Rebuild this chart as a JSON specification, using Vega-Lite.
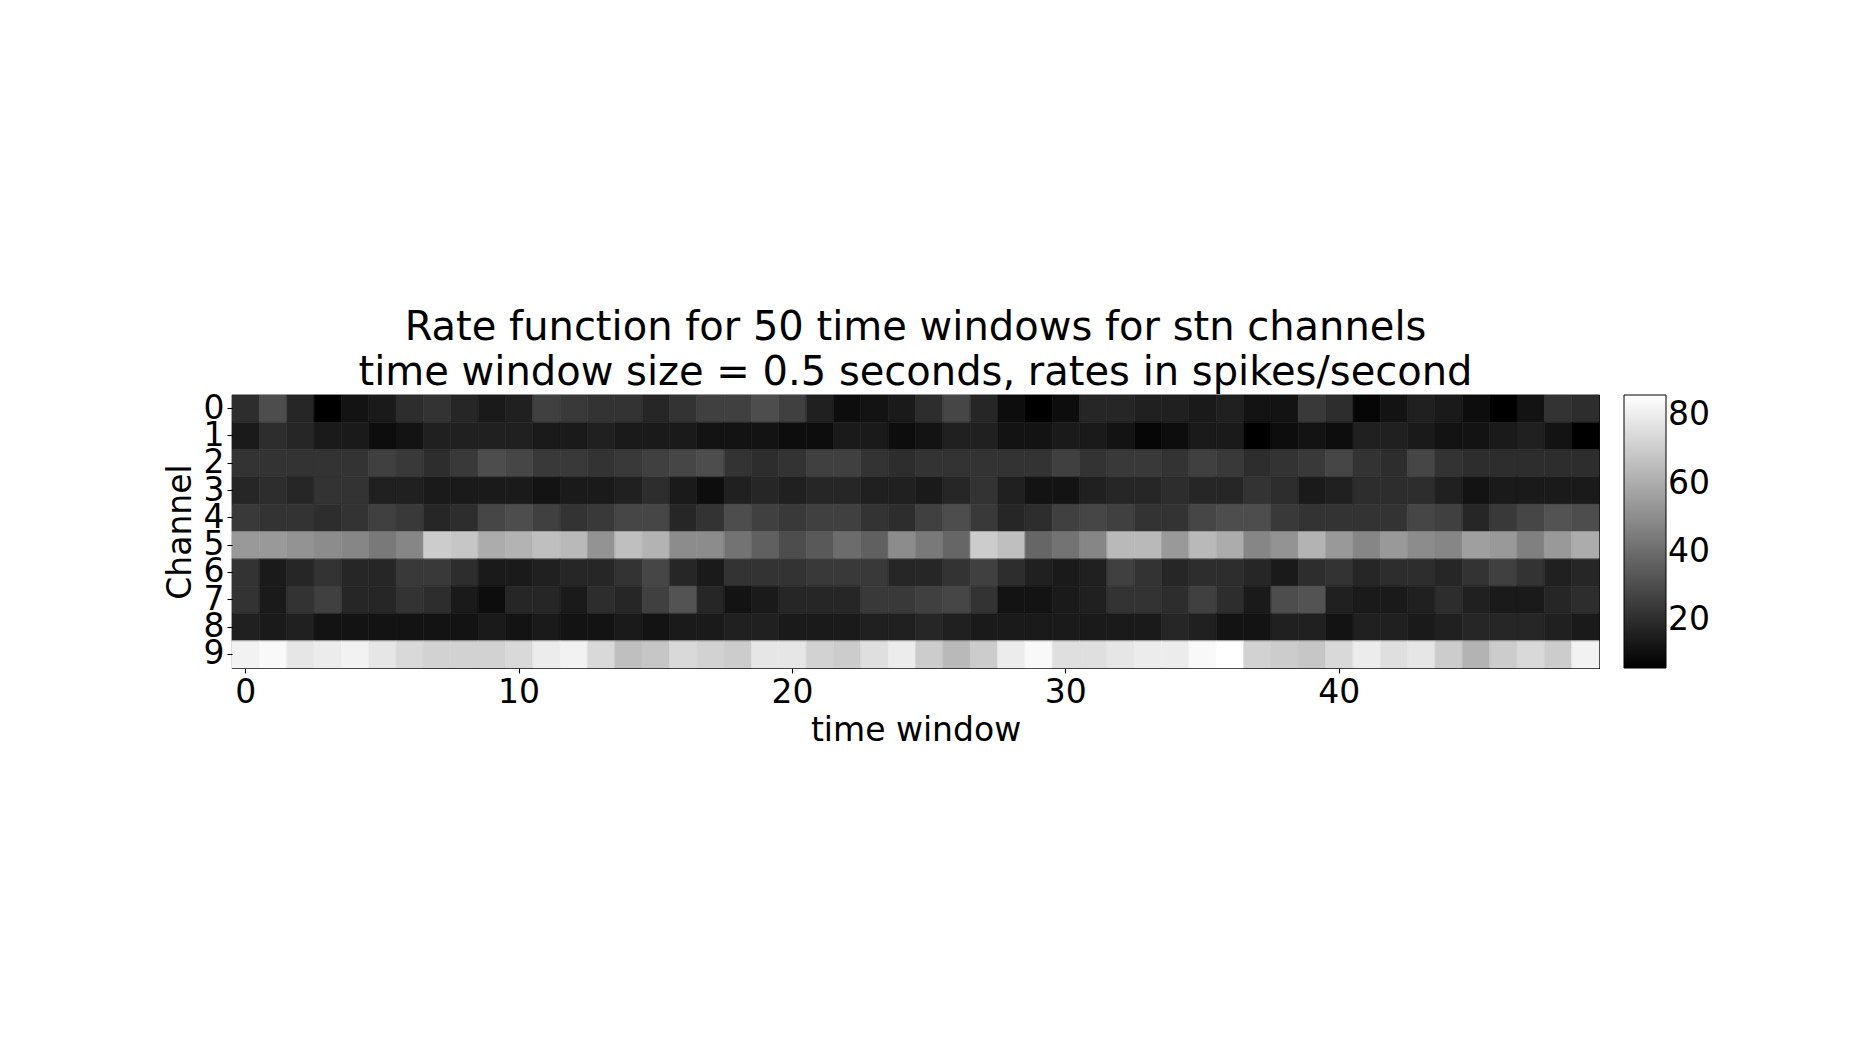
{
  "$schema": "https://vega.github.io/schema/vega-lite/v6.json",
  "autosize": "none",
  "width": 1367,
  "height": 273,
  "padding": {"left": 232, "top": 395, "right": 251, "bottom": 382},
  "background": "white",
  "config": {
    "font": "DejaVu Sans",
    "view": {"stroke": "black", "strokeWidth": 1.1},
    "title": {"fontSize": 40, "fontWeight": "normal", "color": "black", "anchor": "middle", "lineHeight": 45, "baseline": "bottom", "offset": -1},
    "axis": {
      "domain": false, "grid": false,
      "labelFontSize": 33, "labelColor": "black", "labelPadding": 3,
      "tickColor": "black", "tickSize": 5, "tickWidth": 1.1,
      "titleFontSize": 33, "titleFontWeight": "normal", "titleColor": "black"
    },
    "legend": {
      "gradientLength": 273, "gradientThickness": 42,
      "gradientStrokeColor": "black", "gradientStrokeWidth": 1,
      "labelFontSize": 33, "labelColor": "black", "labelOffset": 11,
      "padding": 0, "offset": 25, "labelOverlap": false
    }
  },
  "title": {"text": ["Rate function for 50 time windows for stn channels\u00a0", "\u00a0time window size = 0.5 seconds, rates in spikes/second"]},
  "data": {"values": [
    {"ch":0,"t":0,"rate":20},{"ch":0,"t":1,"rate":30},{"ch":0,"t":2,"rate":18},{"ch":0,"t":3,"rate":6},{"ch":0,"t":4,"rate":12},{"ch":0,"t":5,"rate":14},{"ch":0,"t":6,"rate":20},{"ch":0,"t":7,"rate":22},{"ch":0,"t":8,"rate":18},{"ch":0,"t":9,"rate":14},
    {"ch":0,"t":10,"rate":16},{"ch":0,"t":11,"rate":26},{"ch":0,"t":12,"rate":24},{"ch":0,"t":13,"rate":22},{"ch":0,"t":14,"rate":22},{"ch":0,"t":15,"rate":18},{"ch":0,"t":16,"rate":22},{"ch":0,"t":17,"rate":26},{"ch":0,"t":18,"rate":26},{"ch":0,"t":19,"rate":30},
    {"ch":0,"t":20,"rate":26},{"ch":0,"t":21,"rate":16},{"ch":0,"t":22,"rate":10},{"ch":0,"t":23,"rate":12},{"ch":0,"t":24,"rate":14},{"ch":0,"t":25,"rate":20},{"ch":0,"t":26,"rate":28},{"ch":0,"t":27,"rate":18},{"ch":0,"t":28,"rate":10},{"ch":0,"t":29,"rate":6},
    {"ch":0,"t":30,"rate":10},{"ch":0,"t":31,"rate":18},{"ch":0,"t":32,"rate":18},{"ch":0,"t":33,"rate":16},{"ch":0,"t":34,"rate":16},{"ch":0,"t":35,"rate":14},{"ch":0,"t":36,"rate":16},{"ch":0,"t":37,"rate":12},{"ch":0,"t":38,"rate":12},{"ch":0,"t":39,"rate":24},
    {"ch":0,"t":40,"rate":20},{"ch":0,"t":41,"rate":8},{"ch":0,"t":42,"rate":12},{"ch":0,"t":43,"rate":16},{"ch":0,"t":44,"rate":14},{"ch":0,"t":45,"rate":10},{"ch":0,"t":46,"rate":6},{"ch":0,"t":47,"rate":12},{"ch":0,"t":48,"rate":22},{"ch":0,"t":49,"rate":20},

    {"ch":1,"t":0,"rate":14},{"ch":1,"t":1,"rate":20},{"ch":1,"t":2,"rate":18},{"ch":1,"t":3,"rate":14},{"ch":1,"t":4,"rate":14},{"ch":1,"t":5,"rate":10},{"ch":1,"t":6,"rate":12},{"ch":1,"t":7,"rate":16},{"ch":1,"t":8,"rate":16},{"ch":1,"t":9,"rate":16},
    {"ch":1,"t":10,"rate":16},{"ch":1,"t":11,"rate":14},{"ch":1,"t":12,"rate":14},{"ch":1,"t":13,"rate":16},{"ch":1,"t":14,"rate":14},{"ch":1,"t":15,"rate":14},{"ch":1,"t":16,"rate":14},{"ch":1,"t":17,"rate":12},{"ch":1,"t":18,"rate":12},{"ch":1,"t":19,"rate":12},
    {"ch":1,"t":20,"rate":10},{"ch":1,"t":21,"rate":10},{"ch":1,"t":22,"rate":14},{"ch":1,"t":23,"rate":14},{"ch":1,"t":24,"rate":10},{"ch":1,"t":25,"rate":12},{"ch":1,"t":26,"rate":16},{"ch":1,"t":27,"rate":16},{"ch":1,"t":28,"rate":12},{"ch":1,"t":29,"rate":12},
    {"ch":1,"t":30,"rate":14},{"ch":1,"t":31,"rate":14},{"ch":1,"t":32,"rate":12},{"ch":1,"t":33,"rate":8},{"ch":1,"t":34,"rate":10},{"ch":1,"t":35,"rate":14},{"ch":1,"t":36,"rate":14},{"ch":1,"t":37,"rate":6},{"ch":1,"t":38,"rate":10},{"ch":1,"t":39,"rate":12},
    {"ch":1,"t":40,"rate":10},{"ch":1,"t":41,"rate":16},{"ch":1,"t":42,"rate":16},{"ch":1,"t":43,"rate":14},{"ch":1,"t":44,"rate":12},{"ch":1,"t":45,"rate":12},{"ch":1,"t":46,"rate":14},{"ch":1,"t":47,"rate":16},{"ch":1,"t":48,"rate":12},{"ch":1,"t":49,"rate":6},

    {"ch":2,"t":0,"rate":22},{"ch":2,"t":1,"rate":22},{"ch":2,"t":2,"rate":22},{"ch":2,"t":3,"rate":22},{"ch":2,"t":4,"rate":22},{"ch":2,"t":5,"rate":26},{"ch":2,"t":6,"rate":24},{"ch":2,"t":7,"rate":20},{"ch":2,"t":8,"rate":24},{"ch":2,"t":9,"rate":30},
    {"ch":2,"t":10,"rate":28},{"ch":2,"t":11,"rate":24},{"ch":2,"t":12,"rate":24},{"ch":2,"t":13,"rate":22},{"ch":2,"t":14,"rate":24},{"ch":2,"t":15,"rate":26},{"ch":2,"t":16,"rate":28},{"ch":2,"t":17,"rate":30},{"ch":2,"t":18,"rate":22},{"ch":2,"t":19,"rate":20},
    {"ch":2,"t":20,"rate":22},{"ch":2,"t":21,"rate":26},{"ch":2,"t":22,"rate":26},{"ch":2,"t":23,"rate":22},{"ch":2,"t":24,"rate":20},{"ch":2,"t":25,"rate":22},{"ch":2,"t":26,"rate":22},{"ch":2,"t":27,"rate":22},{"ch":2,"t":28,"rate":22},{"ch":2,"t":29,"rate":22},
    {"ch":2,"t":30,"rate":26},{"ch":2,"t":31,"rate":22},{"ch":2,"t":32,"rate":24},{"ch":2,"t":33,"rate":24},{"ch":2,"t":34,"rate":22},{"ch":2,"t":35,"rate":26},{"ch":2,"t":36,"rate":24},{"ch":2,"t":37,"rate":20},{"ch":2,"t":38,"rate":22},{"ch":2,"t":39,"rate":24},
    {"ch":2,"t":40,"rate":28},{"ch":2,"t":41,"rate":22},{"ch":2,"t":42,"rate":20},{"ch":2,"t":43,"rate":28},{"ch":2,"t":44,"rate":22},{"ch":2,"t":45,"rate":20},{"ch":2,"t":46,"rate":20},{"ch":2,"t":47,"rate":20},{"ch":2,"t":48,"rate":20},{"ch":2,"t":49,"rate":20},

    {"ch":3,"t":0,"rate":18},{"ch":3,"t":1,"rate":20},{"ch":3,"t":2,"rate":18},{"ch":3,"t":3,"rate":22},{"ch":3,"t":4,"rate":22},{"ch":3,"t":5,"rate":16},{"ch":3,"t":6,"rate":16},{"ch":3,"t":7,"rate":14},{"ch":3,"t":8,"rate":14},{"ch":3,"t":9,"rate":14},
    {"ch":3,"t":10,"rate":14},{"ch":3,"t":11,"rate":12},{"ch":3,"t":12,"rate":14},{"ch":3,"t":13,"rate":14},{"ch":3,"t":14,"rate":16},{"ch":3,"t":15,"rate":20},{"ch":3,"t":16,"rate":14},{"ch":3,"t":17,"rate":10},{"ch":3,"t":18,"rate":16},{"ch":3,"t":19,"rate":18},
    {"ch":3,"t":20,"rate":16},{"ch":3,"t":21,"rate":18},{"ch":3,"t":22,"rate":18},{"ch":3,"t":23,"rate":16},{"ch":3,"t":24,"rate":16},{"ch":3,"t":25,"rate":14},{"ch":3,"t":26,"rate":18},{"ch":3,"t":27,"rate":22},{"ch":3,"t":28,"rate":16},{"ch":3,"t":29,"rate":12},
    {"ch":3,"t":30,"rate":12},{"ch":3,"t":31,"rate":16},{"ch":3,"t":32,"rate":18},{"ch":3,"t":33,"rate":18},{"ch":3,"t":34,"rate":20},{"ch":3,"t":35,"rate":18},{"ch":3,"t":36,"rate":18},{"ch":3,"t":37,"rate":22},{"ch":3,"t":38,"rate":20},{"ch":3,"t":39,"rate":14},
    {"ch":3,"t":40,"rate":16},{"ch":3,"t":41,"rate":20},{"ch":3,"t":42,"rate":20},{"ch":3,"t":43,"rate":20},{"ch":3,"t":44,"rate":16},{"ch":3,"t":45,"rate":12},{"ch":3,"t":46,"rate":14},{"ch":3,"t":47,"rate":14},{"ch":3,"t":48,"rate":14},{"ch":3,"t":49,"rate":14},

    {"ch":4,"t":0,"rate":24},{"ch":4,"t":1,"rate":22},{"ch":4,"t":2,"rate":22},{"ch":4,"t":3,"rate":20},{"ch":4,"t":4,"rate":22},{"ch":4,"t":5,"rate":26},{"ch":4,"t":6,"rate":24},{"ch":4,"t":7,"rate":18},{"ch":4,"t":8,"rate":20},{"ch":4,"t":9,"rate":28},
    {"ch":4,"t":10,"rate":30},{"ch":4,"t":11,"rate":26},{"ch":4,"t":12,"rate":22},{"ch":4,"t":13,"rate":24},{"ch":4,"t":14,"rate":28},{"ch":4,"t":15,"rate":28},{"ch":4,"t":16,"rate":18},{"ch":4,"t":17,"rate":22},{"ch":4,"t":18,"rate":30},{"ch":4,"t":19,"rate":26},
    {"ch":4,"t":20,"rate":24},{"ch":4,"t":21,"rate":26},{"ch":4,"t":22,"rate":26},{"ch":4,"t":23,"rate":22},{"ch":4,"t":24,"rate":20},{"ch":4,"t":25,"rate":26},{"ch":4,"t":26,"rate":30},{"ch":4,"t":27,"rate":24},{"ch":4,"t":28,"rate":18},{"ch":4,"t":29,"rate":20},
    {"ch":4,"t":30,"rate":26},{"ch":4,"t":31,"rate":28},{"ch":4,"t":32,"rate":26},{"ch":4,"t":33,"rate":22},{"ch":4,"t":34,"rate":22},{"ch":4,"t":35,"rate":28},{"ch":4,"t":36,"rate":30},{"ch":4,"t":37,"rate":30},{"ch":4,"t":38,"rate":24},{"ch":4,"t":39,"rate":22},
    {"ch":4,"t":40,"rate":22},{"ch":4,"t":41,"rate":22},{"ch":4,"t":42,"rate":22},{"ch":4,"t":43,"rate":28},{"ch":4,"t":44,"rate":26},{"ch":4,"t":45,"rate":18},{"ch":4,"t":46,"rate":24},{"ch":4,"t":47,"rate":28},{"ch":4,"t":48,"rate":32},{"ch":4,"t":49,"rate":30},

    {"ch":5,"t":0,"rate":54},{"ch":5,"t":1,"rate":54},{"ch":5,"t":2,"rate":52},{"ch":5,"t":3,"rate":50},{"ch":5,"t":4,"rate":48},{"ch":5,"t":5,"rate":44},{"ch":5,"t":6,"rate":48},{"ch":5,"t":7,"rate":70},{"ch":5,"t":8,"rate":68},{"ch":5,"t":9,"rate":60},
    {"ch":5,"t":10,"rate":62},{"ch":5,"t":11,"rate":66},{"ch":5,"t":12,"rate":64},{"ch":5,"t":13,"rate":52},{"ch":5,"t":14,"rate":66},{"ch":5,"t":15,"rate":62},{"ch":5,"t":16,"rate":50},{"ch":5,"t":17,"rate":50},{"ch":5,"t":18,"rate":42},{"ch":5,"t":19,"rate":36},
    {"ch":5,"t":20,"rate":30},{"ch":5,"t":21,"rate":34},{"ch":5,"t":22,"rate":40},{"ch":5,"t":23,"rate":36},{"ch":5,"t":24,"rate":50},{"ch":5,"t":25,"rate":44},{"ch":5,"t":26,"rate":38},{"ch":5,"t":27,"rate":70},{"ch":5,"t":28,"rate":66},{"ch":5,"t":29,"rate":38},
    {"ch":5,"t":30,"rate":42},{"ch":5,"t":31,"rate":48},{"ch":5,"t":32,"rate":64},{"ch":5,"t":33,"rate":64},{"ch":5,"t":34,"rate":54},{"ch":5,"t":35,"rate":64},{"ch":5,"t":36,"rate":60},{"ch":5,"t":37,"rate":48},{"ch":5,"t":38,"rate":52},{"ch":5,"t":39,"rate":62},
    {"ch":5,"t":40,"rate":54},{"ch":5,"t":41,"rate":48},{"ch":5,"t":42,"rate":54},{"ch":5,"t":43,"rate":50},{"ch":5,"t":44,"rate":48},{"ch":5,"t":45,"rate":56},{"ch":5,"t":46,"rate":54},{"ch":5,"t":47,"rate":46},{"ch":5,"t":48,"rate":54},{"ch":5,"t":49,"rate":60},

    {"ch":6,"t":0,"rate":22},{"ch":6,"t":1,"rate":14},{"ch":6,"t":2,"rate":18},{"ch":6,"t":3,"rate":22},{"ch":6,"t":4,"rate":18},{"ch":6,"t":5,"rate":18},{"ch":6,"t":6,"rate":24},{"ch":6,"t":7,"rate":24},{"ch":6,"t":8,"rate":20},{"ch":6,"t":9,"rate":14},
    {"ch":6,"t":10,"rate":14},{"ch":6,"t":11,"rate":16},{"ch":6,"t":12,"rate":18},{"ch":6,"t":13,"rate":18},{"ch":6,"t":14,"rate":22},{"ch":6,"t":15,"rate":28},{"ch":6,"t":16,"rate":18},{"ch":6,"t":17,"rate":14},{"ch":6,"t":18,"rate":22},{"ch":6,"t":19,"rate":22},
    {"ch":6,"t":20,"rate":22},{"ch":6,"t":21,"rate":24},{"ch":6,"t":22,"rate":24},{"ch":6,"t":23,"rate":24},{"ch":6,"t":24,"rate":18},{"ch":6,"t":25,"rate":18},{"ch":6,"t":26,"rate":22},{"ch":6,"t":27,"rate":26},{"ch":6,"t":28,"rate":20},{"ch":6,"t":29,"rate":16},
    {"ch":6,"t":30,"rate":14},{"ch":6,"t":31,"rate":16},{"ch":6,"t":32,"rate":26},{"ch":6,"t":33,"rate":22},{"ch":6,"t":34,"rate":18},{"ch":6,"t":35,"rate":20},{"ch":6,"t":36,"rate":20},{"ch":6,"t":37,"rate":18},{"ch":6,"t":38,"rate":14},{"ch":6,"t":39,"rate":20},
    {"ch":6,"t":40,"rate":22},{"ch":6,"t":41,"rate":18},{"ch":6,"t":42,"rate":20},{"ch":6,"t":43,"rate":20},{"ch":6,"t":44,"rate":18},{"ch":6,"t":45,"rate":22},{"ch":6,"t":46,"rate":26},{"ch":6,"t":47,"rate":22},{"ch":6,"t":48,"rate":16},{"ch":6,"t":49,"rate":18},

    {"ch":7,"t":0,"rate":22},{"ch":7,"t":1,"rate":14},{"ch":7,"t":2,"rate":22},{"ch":7,"t":3,"rate":26},{"ch":7,"t":4,"rate":18},{"ch":7,"t":5,"rate":18},{"ch":7,"t":6,"rate":22},{"ch":7,"t":7,"rate":20},{"ch":7,"t":8,"rate":14},{"ch":7,"t":9,"rate":10},
    {"ch":7,"t":10,"rate":18},{"ch":7,"t":11,"rate":18},{"ch":7,"t":12,"rate":14},{"ch":7,"t":13,"rate":20},{"ch":7,"t":14,"rate":18},{"ch":7,"t":15,"rate":26},{"ch":7,"t":16,"rate":32},{"ch":7,"t":17,"rate":18},{"ch":7,"t":18,"rate":12},{"ch":7,"t":19,"rate":14},
    {"ch":7,"t":20,"rate":18},{"ch":7,"t":21,"rate":18},{"ch":7,"t":22,"rate":18},{"ch":7,"t":23,"rate":24},{"ch":7,"t":24,"rate":24},{"ch":7,"t":25,"rate":26},{"ch":7,"t":26,"rate":28},{"ch":7,"t":27,"rate":22},{"ch":7,"t":28,"rate":12},{"ch":7,"t":29,"rate":12},
    {"ch":7,"t":30,"rate":14},{"ch":7,"t":31,"rate":16},{"ch":7,"t":32,"rate":22},{"ch":7,"t":33,"rate":22},{"ch":7,"t":34,"rate":20},{"ch":7,"t":35,"rate":26},{"ch":7,"t":36,"rate":20},{"ch":7,"t":37,"rate":14},{"ch":7,"t":38,"rate":30},{"ch":7,"t":39,"rate":32},
    {"ch":7,"t":40,"rate":16},{"ch":7,"t":41,"rate":14},{"ch":7,"t":42,"rate":14},{"ch":7,"t":43,"rate":16},{"ch":7,"t":44,"rate":20},{"ch":7,"t":45,"rate":16},{"ch":7,"t":46,"rate":14},{"ch":7,"t":47,"rate":14},{"ch":7,"t":48,"rate":18},{"ch":7,"t":49,"rate":20},

    {"ch":8,"t":0,"rate":16},{"ch":8,"t":1,"rate":14},{"ch":8,"t":2,"rate":16},{"ch":8,"t":3,"rate":12},{"ch":8,"t":4,"rate":12},{"ch":8,"t":5,"rate":12},{"ch":8,"t":6,"rate":12},{"ch":8,"t":7,"rate":12},{"ch":8,"t":8,"rate":12},{"ch":8,"t":9,"rate":14},
    {"ch":8,"t":10,"rate":12},{"ch":8,"t":11,"rate":14},{"ch":8,"t":12,"rate":12},{"ch":8,"t":13,"rate":12},{"ch":8,"t":14,"rate":14},{"ch":8,"t":15,"rate":12},{"ch":8,"t":16,"rate":14},{"ch":8,"t":17,"rate":14},{"ch":8,"t":18,"rate":16},{"ch":8,"t":19,"rate":16},
    {"ch":8,"t":20,"rate":14},{"ch":8,"t":21,"rate":14},{"ch":8,"t":22,"rate":14},{"ch":8,"t":23,"rate":16},{"ch":8,"t":24,"rate":16},{"ch":8,"t":25,"rate":18},{"ch":8,"t":26,"rate":16},{"ch":8,"t":27,"rate":14},{"ch":8,"t":28,"rate":14},{"ch":8,"t":29,"rate":14},
    {"ch":8,"t":30,"rate":14},{"ch":8,"t":31,"rate":14},{"ch":8,"t":32,"rate":14},{"ch":8,"t":33,"rate":14},{"ch":8,"t":34,"rate":18},{"ch":8,"t":35,"rate":16},{"ch":8,"t":36,"rate":12},{"ch":8,"t":37,"rate":12},{"ch":8,"t":38,"rate":16},{"ch":8,"t":39,"rate":16},
    {"ch":8,"t":40,"rate":12},{"ch":8,"t":41,"rate":16},{"ch":8,"t":42,"rate":16},{"ch":8,"t":43,"rate":14},{"ch":8,"t":44,"rate":16},{"ch":8,"t":45,"rate":18},{"ch":8,"t":46,"rate":18},{"ch":8,"t":47,"rate":18},{"ch":8,"t":48,"rate":16},{"ch":8,"t":49,"rate":14},

    {"ch":9,"t":0,"rate":82},{"ch":9,"t":1,"rate":84},{"ch":9,"t":2,"rate":78},{"ch":9,"t":3,"rate":80},{"ch":9,"t":4,"rate":82},{"ch":9,"t":5,"rate":78},{"ch":9,"t":6,"rate":74},{"ch":9,"t":7,"rate":72},{"ch":9,"t":8,"rate":72},{"ch":9,"t":9,"rate":72},
    {"ch":9,"t":10,"rate":74},{"ch":9,"t":11,"rate":80},{"ch":9,"t":12,"rate":82},{"ch":9,"t":13,"rate":74},{"ch":9,"t":14,"rate":66},{"ch":9,"t":15,"rate":68},{"ch":9,"t":16,"rate":74},{"ch":9,"t":17,"rate":72},{"ch":9,"t":18,"rate":70},{"ch":9,"t":19,"rate":78},
    {"ch":9,"t":20,"rate":78},{"ch":9,"t":21,"rate":72},{"ch":9,"t":22,"rate":70},{"ch":9,"t":23,"rate":76},{"ch":9,"t":24,"rate":80},{"ch":9,"t":25,"rate":70},{"ch":9,"t":26,"rate":64},{"ch":9,"t":27,"rate":70},{"ch":9,"t":28,"rate":80},{"ch":9,"t":29,"rate":84},
    {"ch":9,"t":30,"rate":76},{"ch":9,"t":31,"rate":76},{"ch":9,"t":32,"rate":78},{"ch":9,"t":33,"rate":80},{"ch":9,"t":34,"rate":80},{"ch":9,"t":35,"rate":84},{"ch":9,"t":36,"rate":86},{"ch":9,"t":37,"rate":72},{"ch":9,"t":38,"rate":70},{"ch":9,"t":39,"rate":68},
    {"ch":9,"t":40,"rate":74},{"ch":9,"t":41,"rate":80},{"ch":9,"t":42,"rate":76},{"ch":9,"t":43,"rate":78},{"ch":9,"t":44,"rate":70},{"ch":9,"t":45,"rate":62},{"ch":9,"t":46,"rate":70},{"ch":9,"t":47,"rate":74},{"ch":9,"t":48,"rate":70},{"ch":9,"t":49,"rate":82}
  ]},
  "encoding": {
    "x": {
      "field": "t", "type": "ordinal", "title": "time window",
      "scale": {"paddingInner": 0, "paddingOuter": 0},
      "axis": {"values": [0, 10, 20, 30, 40], "labelAngle": 0, "titlePadding": 5}
    },
    "y": {
      "field": "ch", "type": "ordinal", "title": "Channel",
      "scale": {"paddingInner": 0, "paddingOuter": 0},
      "axis": {"titlePadding": 6}
    }
  },
  "layer": [
    {
      "mark": {"type": "rect"},
      "encoding": {
        "color": {
          "field": "rate", "type": "quantitative",
          "scale": {"domain": [6, 86], "range": ["#000000", "#ffffff"], "interpolate": "rgb"},
          "legend": {"type": "gradient", "title": null, "values": [20, 40, 60, 80], "orient": "right", "direction": "vertical"}
        }
      }
    },
    {
      "mark": {"type": "rect", "filled": false, "strokeWidth": 0.6},
      "encoding": {
        "stroke": {
          "field": "rate", "type": "quantitative",
          "scale": {"domain": [6, 86], "range": ["#000000", "#ffffff"], "interpolate": "rgb"},
          "legend": null
        }
      }
    }
  ],
  "resolve": {"legend": {"stroke": "independent"}}
}
